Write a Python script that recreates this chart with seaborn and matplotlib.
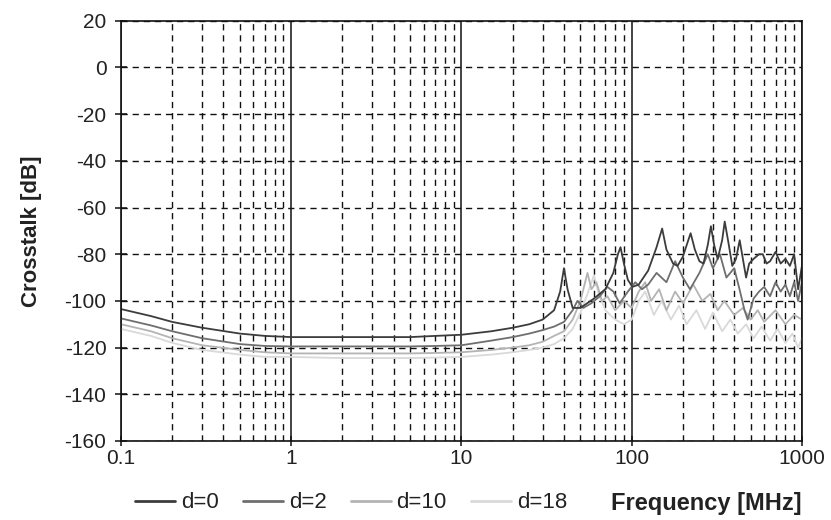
import numpy as np
import pandas as pd
import matplotlib
matplotlib.use("Agg")
import matplotlib.pyplot as plt
import seaborn as sns
from matplotlib.lines import Line2D
from matplotlib.ticker import FixedLocator, FixedFormatter, LogLocator, NullFormatter

# ---------------- data ----------------
series_names = ["d=0", "d=2", "d=10", "d=18"]

f_d0 = [0.1, 0.15, 0.2, 0.3, 0.5, 0.7, 1, 2, 3, 5, 7, 10, 15, 20, 25, 30, 35, 38, 40, 42, 45,
        50, 60, 70, 78, 83, 86, 90, 95, 101, 110, 125, 140, 151, 160, 175, 186, 200, 215, 222,
        235, 250, 264, 280, 292, 305, 320, 340, 352, 370, 390, 410, 431, 450, 470, 490, 520,
        560, 589, 620, 650, 700, 750, 800, 850, 900, 950, 1000]
db_d0 = [-103.5, -106.5, -109, -111.5, -114, -115, -115.5, -115.5, -115.5, -115.5, -115, -114.5,
         -113, -111.5, -110, -108, -104, -96, -86, -95, -103, -103, -99, -95, -88, -80, -77, -84,
         -91, -94, -93, -87, -77, -69, -78, -84, -85, -81, -74, -71, -78, -83, -84, -76, -68, -76,
         -82, -74, -66, -75, -85, -82, -74, -82, -90, -84, -82, -80, -80, -84, -83, -79, -84, -82,
         -85, -80, -95, -85]

f_d2 = [0.1, 0.15, 0.2, 0.3, 0.5, 0.7, 1, 2, 3, 5, 7, 10, 15, 20, 25, 30, 35, 40, 45, 48, 52,
        58, 65, 72, 78, 85, 95, 105, 115, 125, 140, 160, 180, 200, 220, 250, 280, 300, 330, 360,
        400, 430, 460, 480, 520, 560, 600, 650, 700, 750, 800, 850, 900, 950, 1000]
db_d2 = [-107.5, -110.5, -113, -116, -118.5, -119.3, -119.5, -119.5, -119.5, -119.5, -119.3,
         -119, -117, -115.5, -114, -112.5, -111, -109, -104, -100, -103, -101, -98, -94, -96,
         -101, -96, -92, -95, -93, -88, -92, -83, -90, -95, -88, -80, -86, -80, -90, -86, -95,
         -104, -108, -99, -96, -94, -98, -92, -96, -93, -98, -92, -100, -92]

f_d10 = [0.1, 0.15, 0.2, 0.3, 0.5, 0.7, 1, 2, 3, 5, 7, 10, 15, 20, 25, 30, 35, 40, 45, 50, 55,
         58, 62, 67, 72, 80, 90, 100, 110, 120, 130, 145, 160, 180, 200, 230, 260, 290, 320,
         350, 400, 450, 500, 550, 600, 700, 800, 900, 1000]
db_d10 = [-110, -113, -116, -119, -121, -122, -122.5, -122.5, -122.5, -122.5, -122.3, -122,
          -121, -120, -119, -117.5, -115, -113, -108, -100, -88, -95, -92, -100, -98, -104,
          -100, -103, -96, -92, -100, -95, -104, -96, -101, -93, -100, -97, -104, -100, -106,
          -103, -108, -104, -109, -104, -110, -106, -108]

f_d18 = [0.1, 0.15, 0.2, 0.3, 0.5, 0.7, 1, 2, 3, 5, 7, 10, 15, 20, 25, 30, 35, 40, 45, 50, 55,
         60, 64, 70, 80, 90, 100, 110, 120, 135, 150, 170, 190, 210, 240, 270, 300, 340, 380,
         420, 470, 520, 580, 650, 720, 800, 880, 950, 1000]
db_d18 = [-112, -115, -118, -121, -123, -124, -124, -124.5, -124.5, -124.5, -124.3, -124, -123,
          -122, -121, -120, -118.5, -116, -112, -105, -97, -89, -97, -104, -108, -110, -108,
          -100, -96, -106, -100, -108, -102, -110, -104, -112, -105, -113, -108, -114, -110,
          -116, -111, -117, -112, -118, -114, -120, -116]

x_ticks = [0.1, 1, 10, 100, 1000]
x_tick_labels = ["0.1", "1", "10", "100", "1000"]
y_ticks = [-160, -140, -120, -100, -80, -60, -40, -20, 0, 20]

colors = {"d=0": "#3c3c3c", "d=2": "#6f6f6f", "d=10": "#b4b4b4", "d=18": "#d9d9d9"}

# ---------------- build long table ----------------
frames = []
for name, f, d in [("d=0", f_d0, db_d0), ("d=2", f_d2, db_d2),
                   ("d=10", f_d10, db_d10), ("d=18", f_d18, db_d18)]:
    frames.append(pd.DataFrame({"freq": f, "db": d, "series": name}))
df = pd.concat(frames, ignore_index=True)

# ---------------- plot ----------------
sns.set_theme(style="white")
plt.rcParams["font.family"] = ["Liberation Sans", "DejaVu Sans"]
plt.rcParams["axes.unicode_minus"] = False

fig, ax = plt.subplots(figsize=(8.31, 5.2), dpi=100)
fig.subplots_adjust(left=0.1456, right=0.965, top=0.96, bottom=0.152)

# draw lightest first so darker lines stay on top
order = ["d=18", "d=10", "d=2", "d=0"]
for name in order:
    sub = df[df["series"] == name]
    sns.lineplot(data=sub, x="freq", y="db", color=colors[name], estimator=None,
                 sort=False, lw=1.3, ax=ax, legend=False)

ax.set_xscale("log")
ax.set_xlim(0.1, 1000)
ax.set_ylim(-160, 20)

ax.xaxis.set_major_locator(FixedLocator(x_ticks))
ax.xaxis.set_major_formatter(FixedFormatter(x_tick_labels))
ax.xaxis.set_minor_locator(LogLocator(base=10, subs=np.arange(2, 10)))
ax.xaxis.set_minor_formatter(NullFormatter())
ax.set_yticks(y_ticks)

dash = (0, (4.5, 3.5))
ax.xaxis.grid(True, which="major", color="#111111", ls="-", lw=1.1)
ax.xaxis.grid(True, which="minor", color="#111111", ls=dash, lw=1.0)
ax.yaxis.grid(True, which="major", color="#111111", ls=dash, lw=1.0)
ax.set_axisbelow(True)

for s in ax.spines.values():
    s.set_visible(True)
    s.set_color("#111111")
    s.set_linewidth(1.2)

ax.tick_params(axis="y", which="major", direction="inout", length=9, width=1.1,
               color="#111111", labelsize=15, pad=6, left=True)
ax.tick_params(axis="x", which="major", direction="inout", length=7, width=1.1,
               color="#111111", labelsize=15, pad=2, bottom=True)
ax.tick_params(axis="x", which="minor", length=0)
for lab in ax.get_xticklabels() + ax.get_yticklabels():
    lab.set_color("#222222")

ax.set_ylabel("Crosstalk [dB]", fontsize=16, fontweight="bold", color="#222222", labelpad=16)
ax.set_xlabel("Frequency [MHz]", fontsize=17, fontweight="bold", color="#222222",
              ha="right", va="center")
ax.xaxis.set_label_coords(1.0, -0.148)

handles = [Line2D([0], [0], color=colors[n], lw=2) for n in series_names]
fig.legend(handles, series_names, loc="center left", bbox_to_anchor=(0.163, 0.033),
           ncol=4, frameon=False, fontsize=16, handlelength=1.8, handletextpad=0.25,
           columnspacing=1.1, labelcolor="#222222", borderaxespad=0, borderpad=0)

fig.savefig("out.png", dpi=100)
